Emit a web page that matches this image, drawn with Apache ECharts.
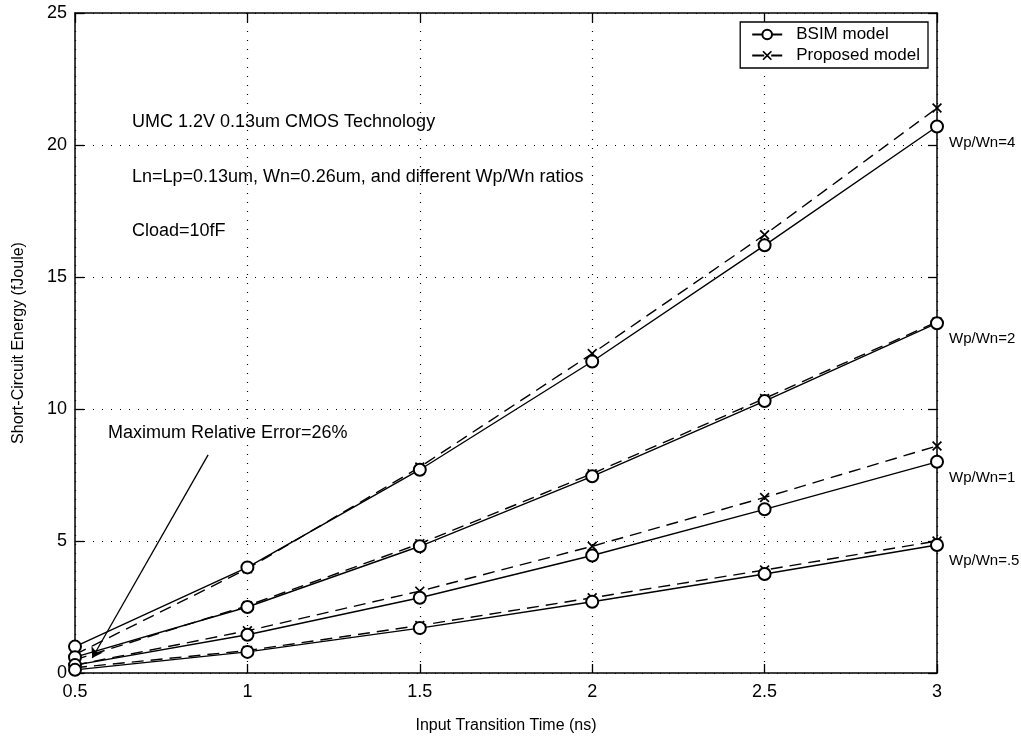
<!DOCTYPE html>
<html><head><meta charset="utf-8">
<script src="https://cdn.jsdelivr.net/npm/echarts@6/dist/echarts.min.js"></script>
<style>html,body{margin:0;padding:0;background:#fff}#c{width:1021px;height:740px}</style>
</head><body><div id="c"></div>
<script>
const xValues = [0.5, 1, 1.5, 2, 2.5, 3];
const bsim4 = [1.0, 4.0, 7.7, 11.8, 16.2, 20.7];
const prop4 = [0.7, 3.95, 7.8, 12.1, 16.6, 21.4];
const bsim2 = [0.6, 2.5, 4.8, 7.45, 10.3, 13.25];
const prop2 = [0.5, 2.55, 4.9, 7.55, 10.4, 13.3];
const bsim1 = [0.3, 1.45, 2.85, 4.45, 6.2, 8.0];
const prop1 = [0.3, 1.6, 3.1, 4.8, 6.65, 8.6];
const bsim05 = [0.12, 0.8, 1.7, 2.7, 3.75, 4.85];
const prop05 = [0.2, 0.85, 1.8, 2.85, 3.9, 5.0];
const ratioLabels = ['Wp/Wn=4', 'Wp/Wn=2', 'Wp/Wn=1', 'Wp/Wn=.5'];
const notes = ['UMC 1.2V 0.13um CMOS Technology', 'Ln=Lp=0.13um, Wn=0.26um, and different Wp/Wn ratios', 'Cload=10fF'];
const errNote = 'Maximum Relative Error=26%';
const arrowFrom = [0.886, 8.26];
const arrowTo = [0.55, 0.57];

const FONT = 'Liberation Sans';
const xSym = 'path://M0,1.2L1.2,0L5,3.8L8.8,0L10,1.2L6.2,5L10,8.8L8.8,10L5,6.2L1.2,10L0,8.8L3.8,5Z';
const pairs = (ys) => xValues.map((x, i) => [x, ys[i]]);

function bsimSeries(ys, lab) {
  return {
    name: 'BSIM model', type: 'line', data: pairs(ys),
    symbol: 'emptyCircle', symbolSize: 12,
    lineStyle: {color: '#000', width: 1.4}, itemStyle: {color: '#000', borderColor: '#000', borderWidth: 1.2},
    endLabel: {show: true, formatter: lab, color: '#000', fontFamily: FONT, fontSize: 15, offset: [4, 16]},
    emphasis: {disabled: true}, z: 3
  };
}
function propSeries(ys) {
  return {
    name: 'Proposed model', type: 'line', data: pairs(ys),
    symbol: xSym, symbolSize: 10,
    lineStyle: {color: '#000', width: 1.4, type: [12, 7]}, itemStyle: {color: '#000'},
    emphasis: {disabled: true}, z: 2
  };
}
const series = [
  bsimSeries(bsim4, ratioLabels[0]), propSeries(prop4),
  bsimSeries(bsim2, ratioLabels[1]), propSeries(prop2),
  bsimSeries(bsim1, ratioLabels[2]), propSeries(prop1),
  bsimSeries(bsim05, ratioLabels[3]), propSeries(prop05)
];
series[0].markLine = {
  silent: true, symbol: ['none', 'arrow'], symbolSize: 10,
  lineStyle: {color: '#000', width: 1.3, type: 'solid'}, label: {show: false},
  data: [[{coord: arrowFrom}, {coord: arrowTo}]]
};

const gridStyle = {show: true, lineStyle: {color: '#000', type: [1, 8], width: 1.2}};
const axisCommon = {
  axisLine: {show: true, onZero: false, lineStyle: {color: '#000', width: 1.5}},
  axisTick: {show: true, inside: true, length: 9, lineStyle: {color: '#000', width: 1.3}},
};
const chart = echarts.init(document.getElementById('c'));
chart.setOption({
  animation: false,
  backgroundColor: '#fff',
  grid: {left: 75, right: 84, top: 13, bottom: 67},
  legend: {
    right: 93, top: 22, orient: 'vertical', backgroundColor: '#fff',
    borderColor: '#000', borderWidth: 1.3, borderRadius: 0, padding: [4, 8, 4, 11],
    itemWidth: 30, itemHeight: 12, itemGap: 4,
    textStyle: {fontFamily: FONT, fontSize: 17, color: '#000', padding: [0, 0, 0, 9]},
    data: ['BSIM model', 'Proposed model']
  },
  xAxis: [{
    type: 'value', min: 0.5, max: 3, interval: 0.5, ...axisCommon,
    splitLine: gridStyle,
    axisLabel: {color: '#000', fontFamily: FONT, fontSize: 18, margin: 10},
    name: 'Input Transition Time (ns)', nameLocation: 'middle', nameGap: 45,
    nameTextStyle: {color: '#000', fontFamily: FONT, fontSize: 16}
  }, {
    type: 'value', position: 'top', min: 0.5, max: 3, interval: 0.5, ...axisCommon,
    splitLine: {show: false}, axisLabel: {show: false}
  }],
  yAxis: [{
    type: 'value', min: 0, max: 25, interval: 5, ...axisCommon,
    splitLine: gridStyle,
    axisLabel: {color: '#000', fontFamily: FONT, fontSize: 18, margin: 8},
    name: 'Short-Circuit Energy (fJoule)', nameLocation: 'middle', nameGap: 48,
    nameTextStyle: {color: '#000', fontFamily: FONT, fontSize: 16}
  }, {
    type: 'value', position: 'right', min: 0, max: 25, interval: 5, ...axisCommon,
    splitLine: {show: false}, axisLabel: {show: false}
  }],
  graphic: [
    {type: 'text', left: 132, top: 113, style: {text: notes[0], fontFamily: FONT, fontSize: 18, fill: '#000'}},
    {type: 'text', left: 132, top: 168, style: {text: notes[1], fontFamily: FONT, fontSize: 18, fill: '#000'}},
    {type: 'text', left: 132, top: 222, style: {text: notes[2], fontFamily: FONT, fontSize: 18, fill: '#000'}},
    {type: 'text', left: 108, top: 424, style: {text: errNote, fontFamily: FONT, fontSize: 18, fill: '#000'}}
  ],
  series: series
});
</script></body></html>
